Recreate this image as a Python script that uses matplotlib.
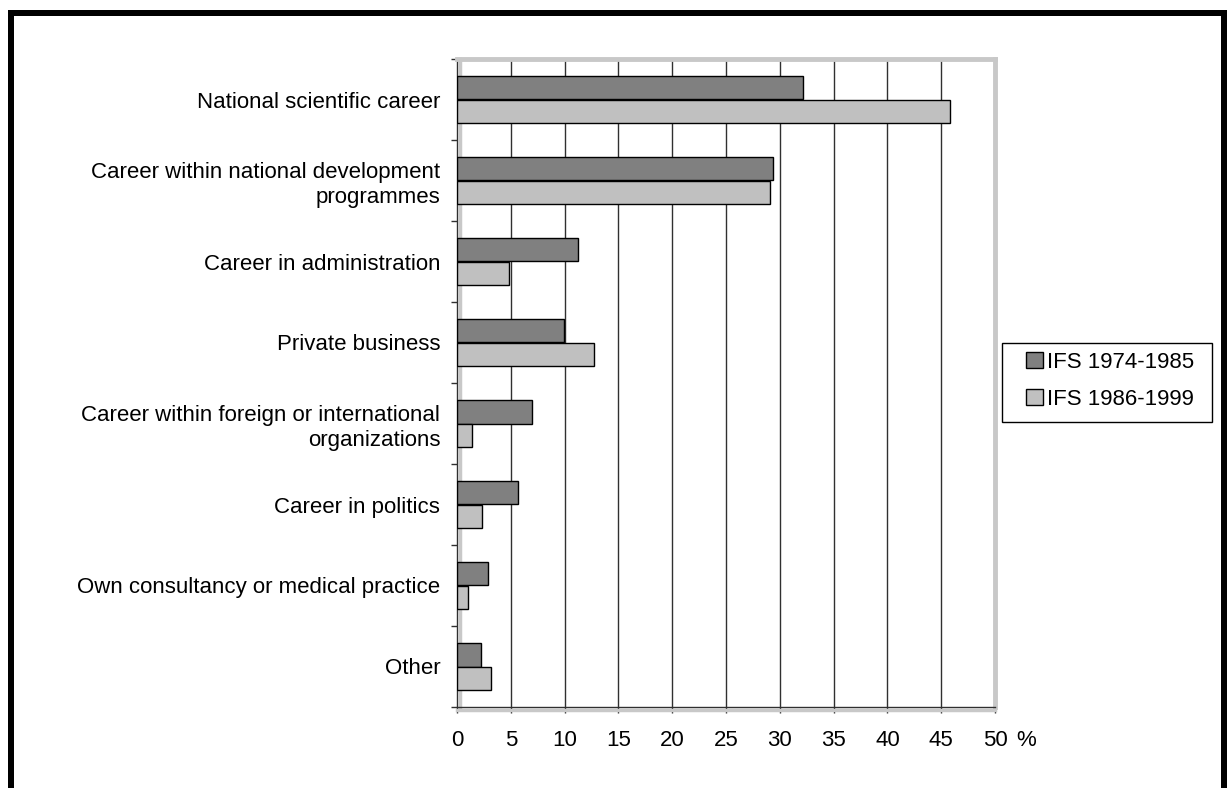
import matplotlib
matplotlib.use("Agg")
import matplotlib.pyplot as plt
import matplotlib.transforms as mtransforms
from matplotlib.lines import Line2D
from matplotlib.patches import Rectangle
import numpy as np

plt.rcParams['font.family'] = ['Liberation Sans', 'DejaVu Sans']

categories = [
    "National scientific career",
    "Career within national development\nprogrammes",
    "Career in administration",
    "Private business",
    "Career within foreign or international\norganizations",
    "Career in politics",
    "Own consultancy or medical practice",
    "Other",
]
series_names = ["IFS 1974-1985", "IFS 1986-1999"]
ifs_1974_1985 = [32.2, 29.4, 11.2, 9.9, 7.0, 5.7, 2.9, 2.2]
ifs_1986_1999 = [45.8, 29.1, 4.8, 12.7, 1.4, 2.35, 1.0, 3.15]
xticks = [0, 5, 10, 15, 20, 25, 30, 35, 40, 45, 50]

W, H = 1227, 788
fig = plt.figure(figsize=(W / 100, H / 100), dpi=100)
fig.patch.set_facecolor('white')

left, right, top, bottom = 457, 995, 59, 707
ax = fig.add_axes([left / W, 1 - bottom / H, (right - left) / W, (bottom - top) / H])

y = np.arange(len(categories))
h = 0.284
ax.barh(y - h / 2, ifs_1974_1985, height=h, color='#808080', edgecolor='black',
        linewidth=1.0, label=series_names[0], zorder=3)
ax.barh(y + h / 2, ifs_1986_1999, height=h, color='#c0c0c0', edgecolor='black',
        linewidth=1.0, label=series_names[1], zorder=3)

ax.set_xlim(0, 50)
ax.set_ylim(len(categories) - 0.5, -0.5)

# gridlines
for xv in xticks[1:-1]:
    ax.axvline(xv, color='#303030', linewidth=1.0, zorder=1)

# spines
ax.spines['top'].set_color('#c8c8c8')
ax.spines['right'].set_color('#c8c8c8')
ax.spines['top'].set_linewidth(3.5)
ax.spines['right'].set_linewidth(3.5)
ax.spines['left'].set_color('#303030')
ax.spines['bottom'].set_color('#303030')
ax.spines['left'].set_linewidth(1.0)
ax.spines['bottom'].set_linewidth(1.0)

# gray shadows along left and bottom axis lines
sh_left = mtransforms.offset_copy(ax.transAxes, fig=fig, x=2.2, y=0, units='points')
ax.add_line(Line2D([0, 0], [0, 1], transform=sh_left, color='#c8c8c8', linewidth=2.5,
                   zorder=2, clip_on=False))
sh_bot = mtransforms.offset_copy(ax.transAxes, fig=fig, x=0, y=-2.2, units='points')
ax.add_line(Line2D([0, 1], [0, 0], transform=sh_bot, color='#c8c8c8', linewidth=2.5,
                   zorder=2, clip_on=False))

ax.set_xticks(xticks)
ax.set_xticklabels([str(v) for v in xticks])
ax.tick_params(axis='x', direction='out', length=4.5, width=1.0, color='#303030',
               labelsize=16, pad=12)

ax.set_yticks(y)
ax.set_yticklabels(categories, fontsize=16, ha='right', linespacing=1.25)
ax.tick_params(axis='y', which='major', length=0, pad=12)
ax.set_yticks(np.arange(-0.5, len(categories) + 0.5, 1.0), minor=True)
ax.tick_params(axis='y', which='minor', direction='out', length=4.5, width=1.0,
               color='#303030')

ax.text(1.058, -0.052, "%", transform=ax.transAxes, fontsize=16, ha='center',
        va='center')

# legend (no frame; frame drawn manually)
leg = fig.legend(loc='upper left', bbox_to_anchor=(1019 / W, 1 - 345 / H),
                 fontsize=16, frameon=False,
                 handlelength=0.78, handleheight=0.78, handletextpad=0.2,
                 labelspacing=0.72, borderpad=0.3, borderaxespad=0)
fig.add_artist(Rectangle((1002 / W, 1 - 422 / H), 210 / W, 79 / H,
                         transform=fig.transFigure, facecolor='none',
                         edgecolor='black', linewidth=1.0))

# outer frame (left, top, right)
lw = 6 * 0.72
fig.add_artist(Line2D([11 / W, 11 / W], [0, 1 - 10 / H], transform=fig.transFigure,
                      color='black', linewidth=lw, solid_capstyle='butt'))
fig.add_artist(Line2D([8 / W, 1227 / W], [1 - 13 / H, 1 - 13 / H], transform=fig.transFigure,
                      color='black', linewidth=lw, solid_capstyle='butt'))
fig.add_artist(Line2D([1224 / W, 1224 / W], [0, 1 - 10 / H], transform=fig.transFigure,
                      color='black', linewidth=lw, solid_capstyle='butt'))

fig.savefig("out.png", dpi=100, facecolor='white')
